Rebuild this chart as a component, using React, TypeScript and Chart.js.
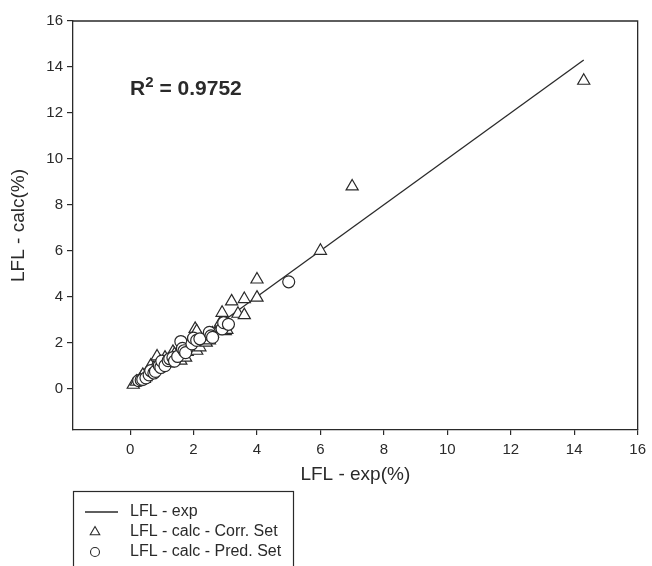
import React, { useEffect, useRef } from "react";
import { Chart, registerables } from "chart.js";

Chart.register(...registerables);

// ---- data ----
const LINE_X = [0.1, 14.3];
const LINE_Y = [0.1, 14.3];

const CORR_X = [0.1, 0.2, 0.3, 0.35, 0.4, 0.45, 0.5, 0.55, 0.6, 0.65, 0.7, 0.75, 0.8, 0.85, 0.9, 0.95, 1.0, 1.1, 1.15, 1.2, 1.3, 1.35, 1.4, 1.5, 1.6, 1.65, 1.7, 1.75, 1.8, 2.0, 2.05, 2.1, 2.1, 2.2, 2.4, 2.5, 2.6, 2.8, 2.85, 2.9, 3.0, 3.05, 3.2, 3.4, 3.6, 3.6, 4.0, 4.0, 6.0, 7.0, 14.3];
const CORR_Y = [0.17, 0.3, 0.35, 0.48, 0.6, 0.42, 0.5, 0.6, 0.7, 1.0, 0.75, 0.9, 0.85, 1.4, 0.95, 1.15, 1.05, 1.35, 1.2, 1.1, 1.25, 1.6, 1.5, 1.3, 1.22, 1.45, 1.8, 1.35, 1.6, 2.1, 2.6, 2.5, 1.65, 1.8, 2.0, 2.1, 2.4, 2.6, 2.87, 3.3, 2.5, 2.56, 3.8, 3.26, 3.9, 3.2, 4.75, 3.96, 6.0, 8.8, 13.4];

const PRED_X = [0.27, 0.35, 0.4, 0.5, 0.6, 0.65, 0.75, 0.8, 0.92, 0.97, 1.0, 1.1, 1.2, 1.25, 1.35, 1.4, 1.5, 1.6, 1.65, 1.7, 1.75, 1.95, 2.0, 2.1, 2.2, 2.5, 2.55, 2.6, 2.9, 2.95, 3.1, 5.0];
const PRED_Y = [0.35, 0.38, 0.4, 0.47, 0.6, 0.78, 0.68, 0.75, 1.0, 0.92, 1.2, 1.0, 1.22, 1.3, 1.35, 1.2, 1.4, 2.05, 1.75, 1.65, 1.57, 1.95, 2.2, 2.1, 2.17, 2.45, 2.3, 2.23, 2.6, 2.87, 2.8, 4.65];

const TICKS = [0, 2, 4, 6, 8, 10, 12, 14, 16];
const AXIS_MIN = -1.8;
const AXIS_MAX = 16;

const X_TITLE = "LFL - exp(%)";
const Y_TITLE = "LFL - calc(%)";
const R2_VALUE = "0.9752";
const R2_POS = [0, 12.8];
const LEGEND_LABELS = ["LFL - exp", "LFL - calc - Corr. Set", "LFL - calc - Pred. Set"];

// ---- style ----
const INK = "#2a2a2a";
const FONT = 'Arial, "Liberation Sans", sans-serif';

const toPts = (xs: number[], ys: number[]) => xs.map((x, i) => ({ x, y: ys[i] }));

const decorPlugin = {
  id: "decor",
  afterDraw(chart: any) {
    const { ctx, chartArea: a, scales } = chart;
    ctx.save();
    // top & right frame
    ctx.strokeStyle = INK;
    ctx.lineWidth = 1.3;
    ctx.beginPath();
    ctx.moveTo(a.left, a.top);
    ctx.lineTo(a.right, a.top);
    ctx.lineTo(a.right, a.bottom);
    ctx.stroke();

    // R^2 annotation
    const rx = scales.x.getPixelForValue(R2_POS[0]);
    const ry = scales.y.getPixelForValue(R2_POS[1]);
    ctx.fillStyle = INK;
    ctx.textAlign = "left";
    ctx.textBaseline = "alphabetic";
    ctx.font = `bold 21px ${FONT}`;
    ctx.fillText("R", rx, ry);
    let w = ctx.measureText("R").width;
    ctx.font = `bold 15px ${FONT}`;
    ctx.fillText("2", rx + w, ry - 8);
    w += ctx.measureText("2").width;
    ctx.font = `bold 21px ${FONT}`;
    ctx.fillText(" = " + R2_VALUE, rx + w, ry);

    // legend box
    const lx = a.left;
    const ly = 491;
    ctx.lineWidth = 1.2;
    ctx.strokeStyle = INK;
    ctx.strokeRect(lx + 0.5, ly + 0.5, 220, 120);
    const rows = [512, 532, 552];
    // line sample
    ctx.lineWidth = 1.3;
    ctx.beginPath();
    ctx.moveTo(lx + 12, rows[0]);
    ctx.lineTo(lx + 45, rows[0]);
    ctx.stroke();
    // triangle sample
    const cx = lx + 22;
    const r = 5.5;
    ctx.lineWidth = 1.1;
    ctx.beginPath();
    ctx.moveTo(cx, rows[1] - r);
    ctx.lineTo(cx + r * 0.866, rows[1] + r * 0.5);
    ctx.lineTo(cx - r * 0.866, rows[1] + r * 0.5);
    ctx.closePath();
    ctx.stroke();
    // circle sample
    ctx.beginPath();
    ctx.arc(cx, rows[2], 4.5, 0, Math.PI * 2);
    ctx.stroke();
    // labels
    ctx.font = `16px ${FONT}`;
    ctx.textBaseline = "middle";
    LEGEND_LABELS.forEach((t, i) => ctx.fillText(t, lx + 57, rows[i]));
    ctx.restore();
  },
};

export default function App() {
  const ref = useRef<HTMLCanvasElement>(null);
  useEffect(() => {
    if (!ref.current) return;
    const axisCommon = (isX: boolean, title: string, titlePad: any) => ({
      type: "linear" as const,
      min: AXIS_MIN,
      max: AXIS_MAX,
      afterBuildTicks: (scale: any) => {
        scale.ticks = TICKS.map((v) => ({ value: v }));
      },
      afterFit: (scale: any) => {
        if (isX) scale.height = 136;
        else scale.width = 73;
      },
      grid: {
        drawOnChartArea: false,
        drawTicks: true,
        tickLength: isX ? 5 : 6,
        color: INK,
        lineWidth: 1.2,
      },
      border: { display: true, color: INK, width: 1.3 },
      ticks: {
        color: INK,
        font: { family: FONT, size: 15 },
        padding: isX ? 6 : 4,
      },
      title: {
        display: true,
        text: title,
        color: INK,
        font: { family: FONT, size: 19 },
        padding: titlePad,
      },
    });
    const chart = new Chart(ref.current, {
      type: "scatter",
      data: {
        datasets: [
          {
            label: LEGEND_LABELS[2],
            data: toPts(PRED_X, PRED_Y),
            pointStyle: "circle",
            pointRadius: 6,
            pointBorderWidth: 1.2,
            pointBackgroundColor: "#ffffff",
            pointBorderColor: INK,
            order: 0,
          },
          {
            label: LEGEND_LABELS[1],
            data: toPts(CORR_X, CORR_Y),
            pointStyle: "triangle",
            pointRadius: 7,
            pointBorderWidth: 1.2,
            pointBackgroundColor: "#ffffff",
            pointBorderColor: INK,
            order: 1,
          },
          {
            label: LEGEND_LABELS[0],
            data: toPts(LINE_X, LINE_Y),
            showLine: true,
            borderColor: INK,
            borderWidth: 1.3,
            pointRadius: 0,
            order: 2,
          } as any,
        ],
      },
      options: {
        animation: false,
        responsive: false,
        layout: { padding: { top: 21, right: 9, bottom: 0, left: 0 } },
        plugins: { legend: { display: false }, tooltip: { enabled: false } },
        scales: {
          x: axisCommon(true, X_TITLE, { top: 0, bottom: 80 }),
          y: axisCommon(false, Y_TITLE, { top: 7, bottom: 0 }),
        },
      },
      plugins: [decorPlugin],
    });
    return () => chart.destroy();
  }, []);
  return (
    <div style={{ position: "absolute", left: 0, top: 0, width: 652, height: 566, background: "#fff" }}>
      <canvas ref={ref} width={652} height={566} />
    </div>
  );
}
